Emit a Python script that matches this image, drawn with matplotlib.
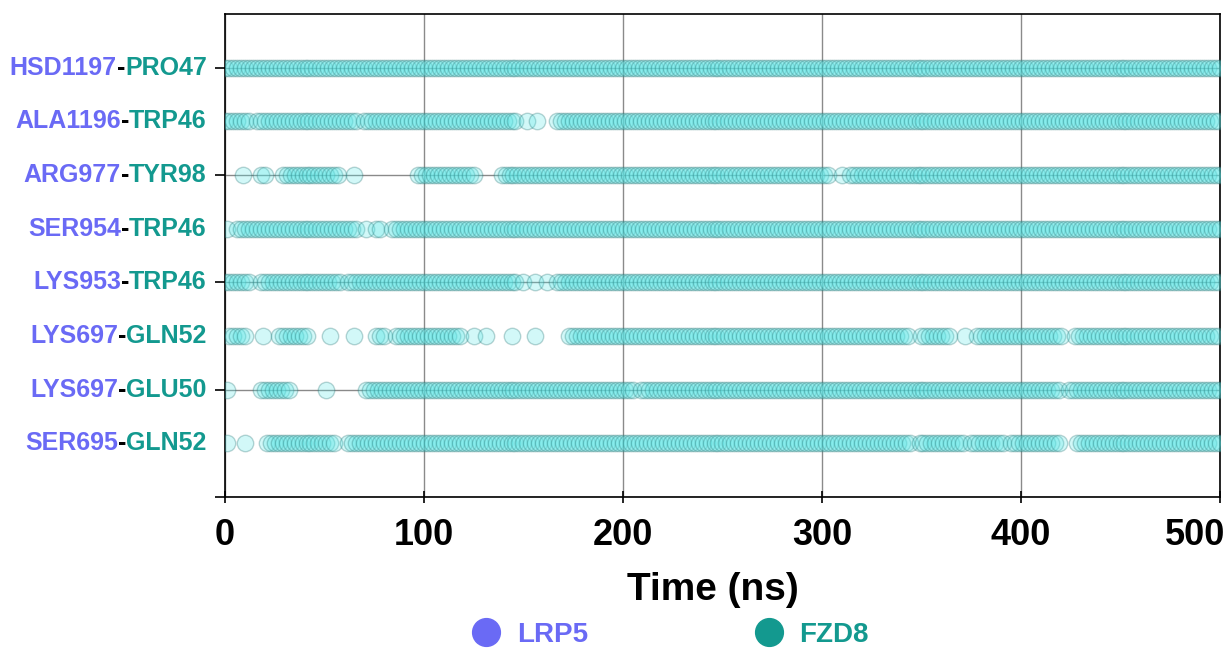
import numpy as np
import matplotlib
matplotlib.use("Agg")
import matplotlib.pyplot as plt
from matplotlib.lines import Line2D
from matplotlib.offsetbox import TextArea, HPacker, AnnotationBbox
from matplotlib.transforms import ScaledTranslation

# residue pairs, bottom row first
lrp5_residues = ["SER695", "LYS697", "LYS697", "LYS953", "SER954", "ARG977", "ALA1196", "HSD1197"]
fzd8_residues = ["GLN52", "GLU50", "GLN52", "TRP46", "TRP46", "TYR98", "TRP46", "PRO47"]

# contact windows (ns, inclusive)
ser695_gln52 = [(1, 1), (10, 10), (21, 55), (62, 345), (349, 371), (375, 391), (395, 420), (428, 500)]
lys697_glu50 = [(1, 1), (18, 33), (51, 51), (71, 205), (209, 420), (424, 500)]
lys697_gln52 = [(2, 10), (19, 19), (27, 42), (53, 53), (65, 65), (76, 81), (86, 118), (125, 125),
                (131, 131), (144, 144), (156, 156), (173, 344), (350, 364), (372, 372), (378, 421), (427, 500)]
lys953_trp46 = [(0, 13), (18, 58), (62, 146), (150, 150), (156, 156), (162, 162), (167, 500)]
ser954_trp46 = [(1, 1), (6, 66), (71, 71), (76, 79), (84, 500)]
arg977_tyr98 = [(9, 9), (18, 21), (29, 57), (65, 65), (97, 125), (139, 303), (310, 310), (314, 500)]
ala1196_trp46 = [(0, 12), (16, 66), (70, 146), (152, 152), (157, 157), (167, 500)]
hsd1197_pro47 = [(0, 500)]

contact_windows = [ser695_gln52, lys697_glu50, lys697_gln52, lys953_trp46,
                   ser954_trp46, arg977_tyr98, ala1196_trp46, hsd1197_pro47]
frame_step = 2  # ns between saved frames

lrp5_color = "#6a6af5"
fzd8_color = "#13998f"

fig = plt.figure(figsize=(12.29, 6.48), dpi=100)
ax = fig.add_axes([0.183, 0.233, 0.8097, 0.7454])

for row, windows in enumerate(contact_windows, start=1):
    t = np.concatenate([np.arange(a, b + 1, frame_step) for a, b in windows])
    ax.scatter(t, np.full(t.shape, row), s=140,
               facecolors=(0.35, 0.9, 0.9, 0.27),
               edgecolors=(0.15, 0.45, 0.45, 0.3),
               linewidths=1.0, zorder=3)

ax.set_xlim(0, 500)
ax.set_ylim(0, 9)
ax.set_xticks(range(0, 501, 100))
ax.set_yticks([0, 2, 4, 6, 8])
ax.set_yticklabels([])
ax.grid(True, color="#8a8a8a", linewidth=1.0)
ax.set_axisbelow(True)
for side in ax.spines.values():
    side.set_color("black")
    side.set_linewidth(1.2)

ax.tick_params(axis="x", direction="inout", length=8, width=1.2, pad=11)
ax.tick_params(axis="y", direction="out", length=7, width=1.2)
xlabels = ax.get_xticklabels()
for lbl in xlabels:
    lbl.set_fontfamily("Liberation Sans")
    lbl.set_fontweight("bold")
    lbl.set_fontsize(26)
# last label sits inside the figure edge
xlabels[-1].set_transform(xlabels[-1].get_transform()
                          + ScaledTranslation(-0.25, 0, fig.dpi_scale_trans))

# two-coloured pair labels on the y axis
label_props = dict(fontsize=18, fontweight="bold", family="Liberation Sans")
for row, (lrp, fzd) in enumerate(zip(lrp5_residues, fzd8_residues), start=1):
    parts = [TextArea(lrp, textprops=dict(color=lrp5_color, **label_props)),
             TextArea("-", textprops=dict(color="black", **label_props)),
             TextArea(fzd, textprops=dict(color=fzd8_color, **label_props))]
    pack = HPacker(children=parts, pad=0, sep=0, align="baseline")
    ab = AnnotationBbox(pack, (0, row), xycoords=("axes fraction", "data"),
                        xybox=(-13, 0), boxcoords="offset points",
                        box_alignment=(1, 0.5), frameon=False, annotation_clip=False)
    ax.add_artist(ab)

fig.text(713 / 1229, 1 - 590 / 648, "Time (ns)", ha="center", va="center",
         fontsize=28, fontweight="bold", family="Liberation Sans")

handles = [Line2D([], [], marker="o", ls="", color=lrp5_color, markersize=20),
           Line2D([], [], marker="o", ls="", color=fzd8_color, markersize=20)]
fig.legend(handles, ["LRP5", "FZD8"], loc="center", bbox_to_anchor=(0.5456, 1 - 635 / 648),
           ncol=2, frameon=False, handlelength=1.0, handletextpad=0.6, columnspacing=6.0,
           prop=dict(weight="bold", size=20, family="Liberation Sans"),
           labelcolor=[lrp5_color, fzd8_color], borderpad=0)

fig.savefig("out.png", dpi=100)
